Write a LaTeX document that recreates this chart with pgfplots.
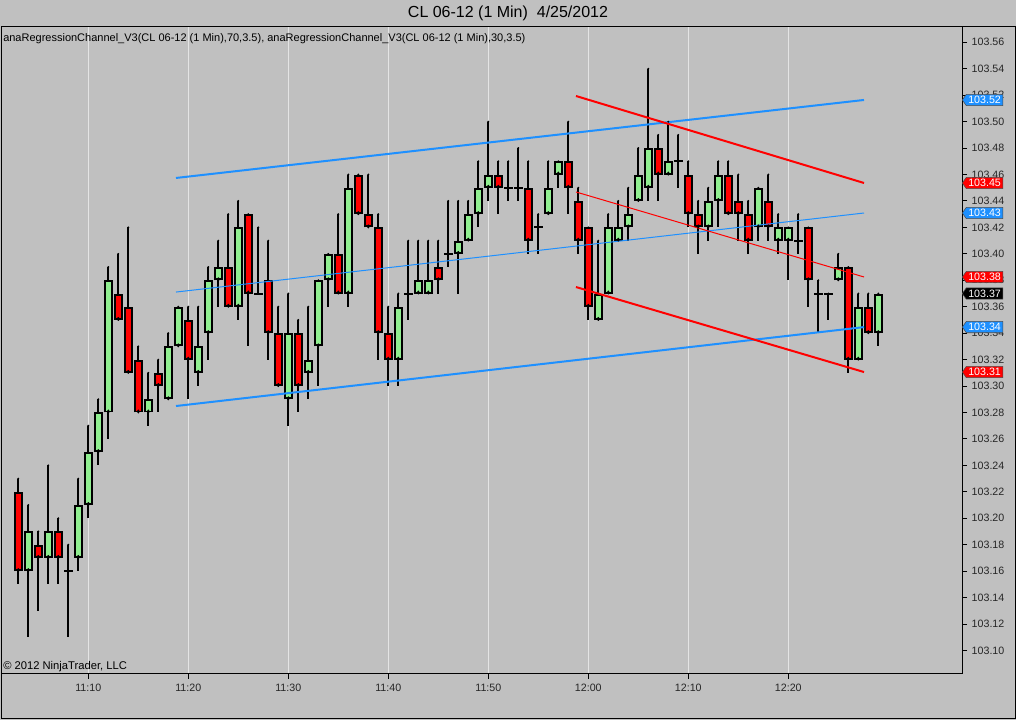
\documentclass[border=0pt]{standalone}
\usepackage{fontspec}
\setmainfont{Liberation Sans}
\usepackage{pgfplots}
\pgfplotsset{compat=1.18}
\usepackage{pgfplotstable}
\usetikzlibrary{shapes.symbols}

\definecolor{bg}{RGB}{192,192,192}
\definecolor{upgreen}{RGB}{144,238,144}
\definecolor{dnred}{RGB}{255,0,0}
\definecolor{chblue}{RGB}{30,144,255}
\definecolor{gridc}{RGB}{228,228,228}

% one row per 1-minute bar, i = 0 is 11:03
\pgfplotstableread{
i o h l c
1 103.16 103.21 103.11 103.19
3 103.17 103.24 103.15 103.19
6 103.17 103.23 103.16 103.21
7 103.21 103.27 103.20 103.25
8 103.25 103.29 103.24 103.28
9 103.28 103.39 103.26 103.38
13 103.28 103.31 103.27 103.29
15 103.29 103.34 103.29 103.33
16 103.33 103.36 103.33 103.36
18 103.31 103.36 103.30 103.33
19 103.34 103.39 103.32 103.38
20 103.38 103.41 103.36 103.39
22 103.36 103.44 103.35 103.42
27 103.29 103.37 103.27 103.34
29 103.31 103.36 103.29 103.32
30 103.33 103.38 103.30 103.38
31 103.38 103.40 103.36 103.40
33 103.37 103.46 103.36 103.45
38 103.32 103.37 103.30 103.36
40 103.37 103.41 103.37 103.38
41 103.37 103.41 103.37 103.38
44 103.40 103.44 103.37 103.41
45 103.41 103.44 103.41 103.43
46 103.43 103.47 103.42 103.45
47 103.45 103.50 103.44 103.46
53 103.43 103.47 103.43 103.45
54 103.46 103.47 103.45 103.47
58 103.35 103.41 103.35 103.37
59 103.37 103.43 103.37 103.42
60 103.41 103.44 103.41 103.42
61 103.42 103.45 103.41 103.43
62 103.44 103.48 103.44 103.46
63 103.45 103.54 103.44 103.48
65 103.46 103.50 103.46 103.47
69 103.42 103.45 103.41 103.44
70 103.44 103.47 103.42 103.46
74 103.42 103.45 103.41 103.45
76 103.41 103.43 103.40 103.42
77 103.41 103.42 103.38 103.42
82 103.38 103.40 103.38 103.39
84 103.32 103.37 103.32 103.36
86 103.34 103.37 103.33 103.37
}\upbars

\pgfplotstableread{
i o h l c
0 103.22 103.23 103.15 103.16
2 103.18 103.19 103.13 103.17
4 103.19 103.20 103.15 103.17
10 103.37 103.40 103.35 103.35
11 103.36 103.42 103.31 103.31
12 103.32 103.33 103.28 103.28
14 103.31 103.32 103.28 103.30
17 103.35 103.36 103.29 103.32
21 103.39 103.43 103.36 103.36
23 103.43 103.43 103.33 103.37
25 103.38 103.41 103.32 103.34
26 103.34 103.36 103.30 103.30
28 103.34 103.35 103.28 103.30
32 103.40 103.43 103.37 103.37
34 103.46 103.46 103.43 103.43
35 103.43 103.46 103.42 103.42
36 103.42 103.43 103.32 103.34
37 103.34 103.36 103.30 103.32
42 103.39 103.41 103.37 103.38
48 103.46 103.47 103.43 103.45
51 103.45 103.47 103.40 103.41
55 103.47 103.50 103.43 103.45
56 103.44 103.45 103.40 103.41
57 103.42 103.42 103.35 103.36
64 103.48 103.49 103.44 103.46
67 103.46 103.47 103.42 103.43
68 103.43 103.44 103.40 103.42
71 103.46 103.47 103.43 103.43
72 103.44 103.46 103.41 103.43
73 103.43 103.44 103.40 103.41
75 103.44 103.46 103.41 103.42
79 103.42 103.42 103.36 103.38
83 103.39 103.39 103.31 103.32
85 103.36 103.37 103.34 103.34
}\downbars

\pgfplotstableread{
i o h l c
5 103.16 103.18 103.11 103.16
24 103.37 103.42 103.37 103.37
39 103.37 103.41 103.35 103.37
43 103.40 103.44 103.39 103.40
49 103.45 103.47 103.44 103.45
50 103.45 103.48 103.44 103.45
52 103.42 103.43 103.40 103.42
66 103.47 103.49 103.45 103.47
78 103.41 103.43 103.40 103.41
80 103.37 103.38 103.34 103.37
81 103.37 103.37 103.35 103.37
}\dojibars

\pgfplotsset{
  hidemarks/.style={only marks, mark=*, mark size=0.5pt, mark options={draw=none, fill=none}},
  wick/.style={hidemarks, error bars/.cd, y dir=minus, y explicit,
    error mark=none, error bar style={black, line width=1.5pt}},
  bodyout/.style={hidemarks, error bars/.cd, y dir=plus, y explicit,
    error mark=none, error bar style={black, line width=6.4pt}},
  bodyin/.style={hidemarks, error bars/.cd, y dir=plus, y explicit,
    error mark=none, error bar style={#1, line width=3.4pt}},
}
\tikzset{
  tag/.style={shape=signal, signal to=west, signal pointer angle=110, fill=#1,
    draw=black!70, line width=0.4pt, text=white, font=\fontsize{8}{9}\selectfont,
    inner xsep=1.5pt, inner ysep=1.4pt, anchor=west},
}

\begin{document}
\begin{tikzpicture}[x=0.75pt, y=0.75pt]
\fill[bg] (0,0) rectangle (1016,720);
\draw[black, line width=0.75pt] (1,1) rectangle (1015,693);
\node[font=\fontsize{12}{14}\selectfont] at (508,707) {CL 06-12 (1 Min)\ \ 4/25/2012};

\begin{axis}[
  at={(0.75pt,519.75pt)}, anchor=north west,
  scale only axis, width=720.75pt, height=485.25pt,
  xmin=-1.73, xmax=94.37, ymin=103.0822, ymax=103.5716,
  axis x line*=bottom, axis y line*=right,
  axis line style={black, line width=0.75pt},
  tick align=outside, major tick length=3.75pt,
  tick style={black, line width=0.75pt},
  xtick={7,17,27,37,47,57,67,77},
  xticklabels={11:10,11:20,11:30,11:40,11:50,12:00,12:10,12:20},
  ytick={103.10,103.12,103.14,103.16,103.18,103.20,103.22,103.24,103.26,103.28,103.30,103.32,103.34,103.36,103.38,103.40,103.42,103.44,103.46,103.48,103.50,103.52,103.54,103.56},
  yticklabels={103.10,103.12,103.14,103.16,103.18,103.20,103.22,103.24,103.26,103.28,103.30,103.32,103.34,103.36,103.38,103.40,103.42,103.44,103.46,103.48,103.50,103.52,103.54,103.56},
  ticklabel style={font=\fontsize{8}{9}\selectfont, text=black!85},
  xmajorgrids, ymajorgrids=false,
  major grid style={gridc, line width=0.75pt},
]
% wicks
\addplot[wick] table[x=i, y=h, y error minus expr=\thisrow{h}-\thisrow{l}] \upbars;
\addplot[wick] table[x=i, y=h, y error minus expr=\thisrow{h}-\thisrow{l}] \downbars;
\addplot[wick] table[x=i, y=h, y error minus expr=\thisrow{h}-\thisrow{l}] \dojibars;
% up bodies
\addplot[bodyout] table[x=i, y=o, y error plus expr=\thisrow{c}-\thisrow{o}] \upbars;
\addplot[bodyin=upgreen] table[x=i, y expr=\thisrow{o}+0.0015, y error plus expr=\thisrow{c}-\thisrow{o}-0.003] \upbars;
% down bodies
\addplot[bodyout] table[x=i, y=c, y error plus expr=\thisrow{o}-\thisrow{c}] \downbars;
\addplot[bodyin=dnred] table[x=i, y expr=\thisrow{c}+0.0015, y error plus expr=\thisrow{o}-\thisrow{c}-0.003] \downbars;
% doji
\addplot[only marks, mark=-, mark size=3.2pt, mark options={black, line width=1.5pt}] table[x=i, y=o] \dojibars;

% regression channel, 70 bars
\addplot[chblue, line width=1.5pt] coordinates {(15.77,103.4574) (84.57,103.5164)};
\addplot[chblue, line width=0.75pt] coordinates {(15.77,103.3711) (84.57,103.4309)};
\addplot[chblue, line width=1.5pt] coordinates {(15.77,103.2849) (84.57,103.3446)};
% regression channel, 30 bars
\addplot[dnred, line width=1.5pt] coordinates {(55.77,103.5194) (84.57,103.4536)};
\addplot[dnred, line width=0.75pt] coordinates {(55.77,103.4468) (84.57,103.3825)};
\addplot[dnred, line width=1.5pt] coordinates {(55.77,103.3749) (84.57,103.3106)};

\coordinate (t1) at (axis cs:94.37,103.5164);
\coordinate (t2) at (axis cs:94.37,103.4536);
\coordinate (t3) at (axis cs:94.37,103.4309);
\coordinate (t4) at (axis cs:94.37,103.3825);
\coordinate (t5) at (axis cs:94.37,103.37);
\coordinate (t6) at (axis cs:94.37,103.3446);
\coordinate (t7) at (axis cs:94.37,103.3106);
\end{axis}

\node[anchor=west, inner sep=0pt, font=\fontsize{8.25}{9}\selectfont] at (3,681)
  {anaRegressionChannel\_V3(CL 06-12 (1 Min),70,3.5), anaRegressionChannel\_V3(CL 06-12 (1 Min),30,3.5)};
\node[anchor=west, inner sep=0pt, font=\fontsize{8.4}{9}\selectfont] at (3,53) {\textcopyright{} 2012 NinjaTrader, LLC};

\node[tag=chblue] at (t1) {103.52};
\node[tag=dnred] at (t2) {103.45};
\node[tag=chblue] at (t3) {103.43};
\node[tag=dnred] at (t4) {103.38};
\node[tag=black] at (t5) {103.37};
\node[tag=chblue] at (t6) {103.34};
\node[tag=dnred] at (t7) {103.31};
\end{tikzpicture}
\end{document}
